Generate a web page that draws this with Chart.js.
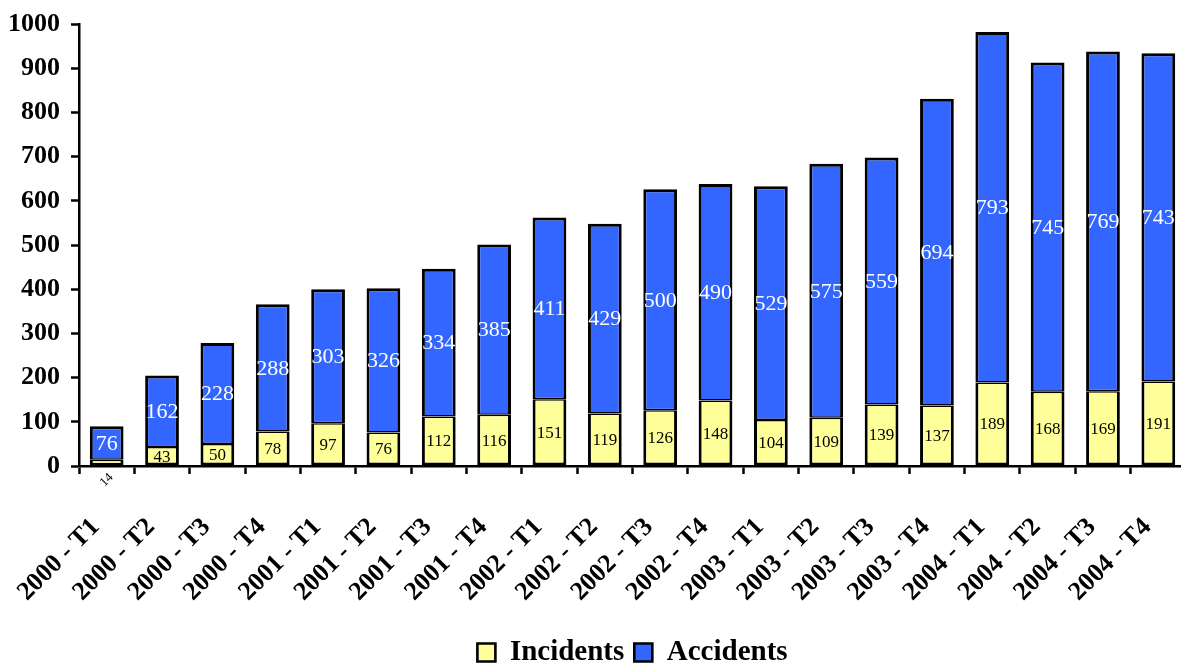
<!DOCTYPE html>
<html>
<head>
<meta charset="utf-8">
<style>
  html, body { margin: 0; padding: 0; background: #ffffff; overflow: hidden; }
  #wrap { width: 1181px; height: 664px; position: relative; overflow: hidden; }
  #c { position: absolute; left: 0; top: 0; }
</style>
<script src="https://cdn.jsdelivr.net/npm/chart.js@4.4.1/dist/chart.umd.min.js"></script>
</head>
<body>
<div id="wrap"><canvas id="c" width="1186" height="677"></canvas></div>
<script>
// Quarterly counts, 2000–2004
const quarters = [
  '2000 - T1', '2000 - T2', '2000 - T3', '2000 - T4',
  '2001 - T1', '2001 - T2', '2001 - T3', '2001 - T4',
  '2002 - T1', '2002 - T2', '2002 - T3', '2002 - T4',
  '2003 - T1', '2003 - T2', '2003 - T3', '2003 - T4',
  '2004 - T1', '2004 - T2', '2004 - T3', '2004 - T4'
];
const incidents = [14, 43, 50, 78, 97, 76, 112, 116, 151, 119, 126, 148, 104, 109, 139, 137, 189, 168, 169, 191];
const accidents = [76, 162, 228, 288, 303, 326, 334, 385, 411, 429, 500, 490, 529, 575, 559, 694, 793, 745, 769, 743];
const yTicks = [0, 100, 200, 300, 400, 500, 600, 700, 800, 900, 1000];

const SERIF = '"Liberation Serif", "Times New Roman", serif';

// Writes each segment's value in the middle of the segment;
// segments too short for their label get a small tilted label under the axis.
const segmentLabels = {
  id: 'segmentLabels',
  afterDatasetsDraw(chart) {
    const ctx = chart.ctx;
    chart.data.datasets.forEach((ds, di) => {
      const meta = chart.getDatasetMeta(di);
      meta.data.forEach((bar, i) => {
        const v = ds.data[i];
        const top = Math.min(bar.y, bar.base);
        const bottom = Math.max(bar.y, bar.base);
        const h = bottom - top;
        ctx.save();
        ctx.textAlign = 'center';
        ctx.textBaseline = 'middle';
        if (h < 18) {
          ctx.font = '13px ' + SERIF;
          ctx.fillStyle = '#000000';
          ctx.translate(bar.x, chart.scales.y.bottom + 14);
          ctx.rotate(-Math.PI / 4);
          ctx.fillText(String(v), 0, 0);
        } else {
          ctx.font = ds.labelFont;
          ctx.fillStyle = ds.labelColor;
          ctx.fillText(String(v), bar.x, (top + bottom) / 2 + 1);
        }
        ctx.restore();
      });
    });
  }
};

new Chart(document.getElementById('c'), {
  type: 'bar',
  data: {
    labels: quarters,
    datasets: [
      {
        label: 'Incidents',
        data: incidents,
        backgroundColor: '#FFFF99',
        borderColor: '#000000',
        borderWidth: { top: 1.5, left: 3, right: 3, bottom: 3 },
        borderSkipped: false,
        labelFont: '17px ' + SERIF,
        labelColor: '#000000'
      },
      {
        label: 'Accidents',
        data: accidents,
        backgroundColor: '#3366FF',
        borderColor: '#000000',
        borderWidth: { top: 3, left: 3, right: 3, bottom: 1.5 },
        borderSkipped: false,
        labelFont: '22px ' + SERIF,
        labelColor: '#FFFFFF'
      }
    ]
  },
  options: {
    responsive: false,
    animation: false,
    devicePixelRatio: 1,
    layout: { padding: { top: 24, left: 0, right: 0, bottom: 0 } },
    datasets: {
      bar: { categoryPercentage: 1.0, barPercentage: 0.61 }
    },
    scales: {
      x: {
        stacked: true,
        offset: true,
        grid: {
          offset: true,
          drawOnChartArea: false,
          drawTicks: true,
          tickLength: 8,
          tickWidth: 2.5,
          tickColor: '#000000'
        },
        border: { display: true, color: '#000000', width: 2.5 },
        ticks: {
          autoSkip: false,
          maxRotation: 45,
          minRotation: 45,
          padding: 38,
          labelOffset: -11,
          color: '#000000',
          font: { family: SERIF, size: 26, weight: 'bold' }
        },
        afterFit(scale) {
          scale.height = 162;
          scale.paddingLeft = 0;
          scale.paddingRight = 0;
        }
      },
      y: {
        stacked: true,
        min: 0,
        max: 1000,
        afterBuildTicks(scale) { scale.ticks = yTicks.map(v => ({ value: v })); },
        grid: {
          drawOnChartArea: false,
          drawTicks: true,
          tickLength: 8,
          tickWidth: 2.5,
          tickColor: '#000000'
        },
        border: { display: true, color: '#000000', width: 2.5 },
        ticks: {
          padding: 11,
          color: '#000000',
          font: { family: SERIF, size: 26, weight: 'bold' },
          callback: (v) => String(v)
        },
        afterFit(scale) {
          scale.width = 79;
          scale.paddingTop = 0;
          scale.paddingBottom = 0;
        }
      }
    },
    plugins: {
      legend: {
        position: 'bottom',
        fullSize: false,
        labels: {
          color: '#000000',
          boxWidth: 18,
          boxHeight: 18,
          padding: 10,
          font: { family: SERIF, size: 29, weight: 'bold', lineHeight: 1 }
        }
      },
      tooltip: { enabled: false }
    }
  },
  plugins: [segmentLabels]
});
</script>
</body>
</html>
